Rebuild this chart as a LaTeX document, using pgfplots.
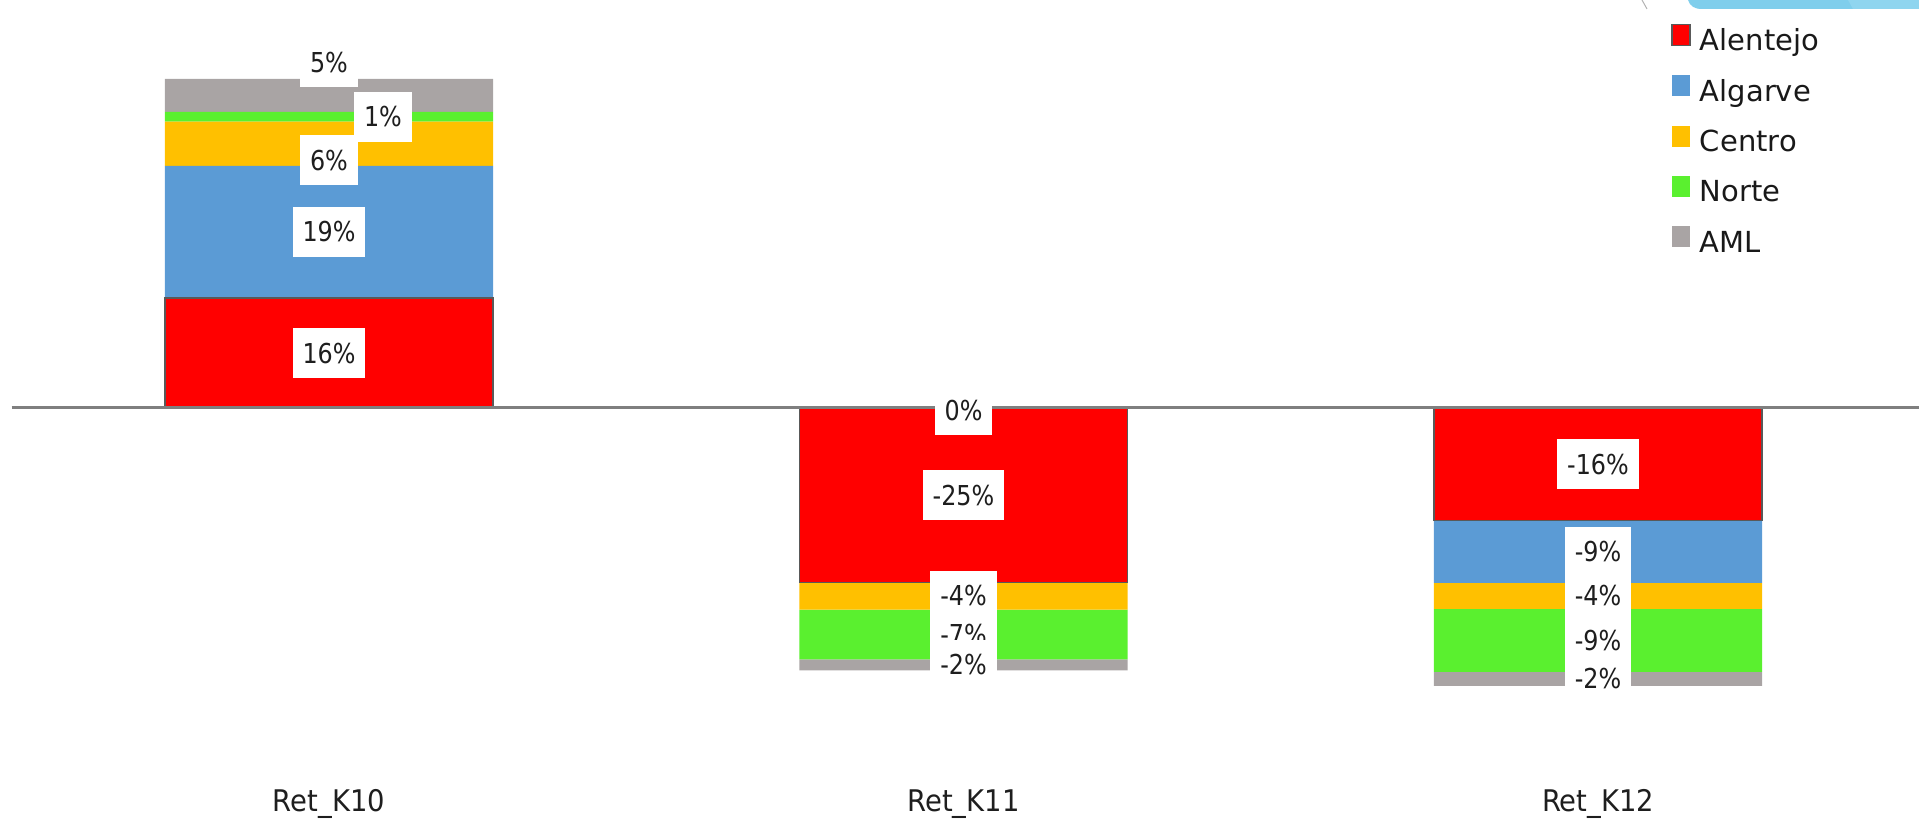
\documentclass[border=0pt]{standalone}
\usepackage{fontspec}
\setmainfont{DejaVu Sans}
\newfontfamily\labfont{DejaVu Sans}[FakeStretch=0.87]
\newfontfamily\catfont{DejaVu Sans}[FakeStretch=0.92]
\usepackage{pgfplots}
\usepackage{pgfplotstable}
\pgfplotsset{compat=1.18}

\definecolor{cAlentejo}{HTML}{FF0000}
\definecolor{cAlgarve}{HTML}{5B9BD5}
\definecolor{cCentro}{HTML}{FFC000}
\definecolor{cNorte}{HTML}{5AF02F}
\definecolor{cAML}{HTML}{A9A4A4}
\definecolor{edge}{HTML}{595959}
\definecolor{zeroline}{HTML}{7F7F7F}
\definecolor{txt}{HTML}{1E1E1E}
\definecolor{band}{HTML}{7FCEEC}
\definecolor{bandlight}{HTML}{8FD5EF}

% values in percent
\pgfplotstableread{
x y
0 15.7
1 -24.9
2 -16.1
}\alentejo
\pgfplotstableread{
x y
0 18.9
1 0
2 -8.9
}\algarve
\pgfplotstableread{
x y
0 6.3
1 -3.9
2 -3.7
}\centro
\pgfplotstableread{
x y
0 1.4
1 -7.1
2 -9.0
}\norte
\pgfplotstableread{
x y
0 4.7
1 -1.6
2 -2.0
}\aml

% label positions (where the data labels sit) and their text
\pgfplotstableread{
x y lab
0 7.85 16
1 -12.45 -25
2 -8.05 -16
0 25.15 19
1 -0.3 0
2 -20.55 -9
0 35.4 6
1 -26.85 -4
2 -26.85 -4
0.085 41.6 1
1 -32.35 -7
2 -33.2 -9
0 49.4 5
1 -36.7 -2
2 -38.7 -2
}\labels

\pgfplotsset{
  frame/.style={
    scale only axis, width=959.5pt, height=409.5pt,
    xmin=-0.5185, xmax=2.5059, ymin=-58.714, ymax=58.286,
  },
}

\begin{document}
\begin{tikzpicture}
\begin{axis}[
    frame, name=ax,
    ybar stacked, bar width=0.517,
    axis line style={draw=none}, major tick length=0pt,
    xtick={0,1,2}, xticklabels={Ret\_K10,Ret\_K11,Ret\_K12},
    xticklabel style={anchor=base, yshift=3.5pt, text=txt,
      font=\catfont\fontsize{14.9}{18}\selectfont},
    ytick=\empty,
    every axis plot/.append style={
      legend image code/.code={\path[##1] (0pt,-1.5pt) rectangle (9pt,9pt);}},
    legend cell align=left,
    legend style={at={(0.8708,0.9712)}, anchor=north west,
      draw=none, fill=none, inner sep=0pt, row sep=9.2pt,
      font=\fontsize{14.5}{17}\selectfont, text=black!90,
      nodes={inner sep=0pt, text height=11pt, text depth=3pt},
      /tikz/every odd column/.append style={column sep=4.5pt}},
  ]
  \addplot[fill=cAlentejo, draw=edge, line width=0.75pt] table[x=x,y=y] {\alentejo};
  \addplot[fill=cAlgarve, draw=none] table[x=x,y=y] {\algarve};
  \addplot[fill=cCentro, draw=none] table[x=x,y=y] {\centro};
  \addplot[fill=cNorte, draw=none] table[x=x,y=y] {\norte};
  \addplot[fill=cAML, draw=none] table[x=x,y=y] {\aml};
  \legend{Alentejo,Algarve,Centro,Norte,AML}
\end{axis}

\begin{axis}[frame, hide axis]
  \addplot[zeroline, line width=1.5pt, mark=none] coordinates {(-0.5,0) (2.5059,0)};
  \addplot[draw=none, mark=none,
    point meta=explicit symbolic,
    nodes near coords={\pgfplotspointmeta\%},
    every node near coord/.append style={anchor=center, fill=white,
      text=txt, inner xsep=5pt, inner ysep=0pt, minimum height=25pt,
      font=\labfont\fontsize{13.7}{16}\selectfont},
  ] table[x=x,y=y,meta=lab] {\labels};
\end{axis}

% slide decoration at the top right corner
\begin{scope}[x=0.5pt, y=-0.5pt, shift={(0pt,409.5pt)}]
  \fill[band] (1688,0) .. controls (1690,6) and (1694,9) .. (1702,9) -- (1919,9) -- (1919,0) -- cycle;
  \fill[bandlight] (1848,0) -- (1853,9) -- (1919,9) -- (1919,0) -- cycle;
  \draw[black!30, line width=0.5pt] (1642,0) .. controls (1644,4) .. (1647,9);
\end{scope}

\pgfresetboundingbox
\path[use as bounding box] (0,0) rectangle (959.5pt,409.5pt);
\end{tikzpicture}
\end{document}
